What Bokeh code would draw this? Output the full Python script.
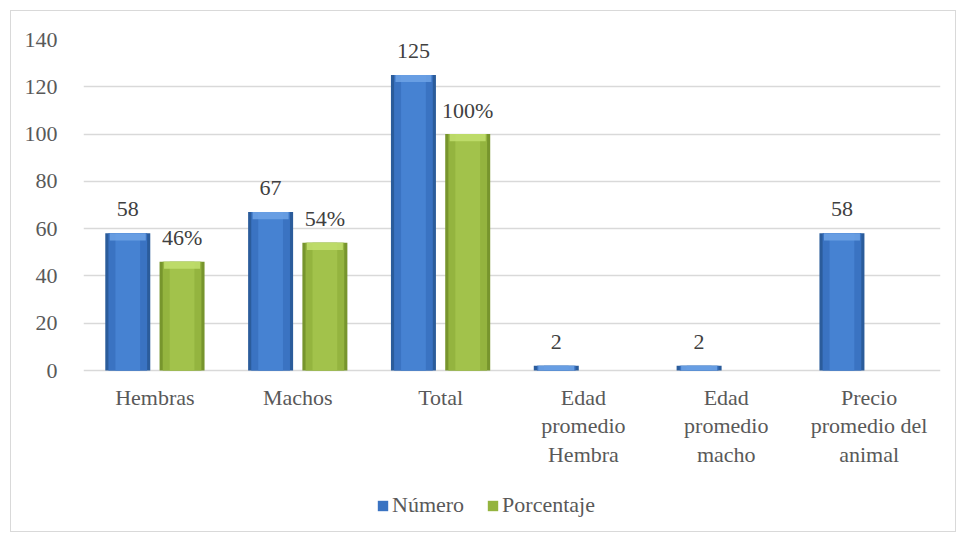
import numpy as np
from bokeh.plotting import figure
from bokeh.models import ColumnDataSource, FactorRange, Range1d, FixedTicker, Legend, LegendItem
from bokeh.transform import dodge
from bokeh.core.properties import value
from bokeh.embed import file_html
from bokeh.resources import INLINE

# ---- data ----
categories = ["Hembras", "Machos", "Total",
              "Edad\npromedio\nHembra", "Edad\npromedio\nmacho",
              "Precio\npromedio del\nanimal"]
numero = [58, 67, 125, 2, 2, 58]
porcentaje = [46, 54, 100, np.nan, np.nan, np.nan]
numero_labels = ["58", "67", "125", "2", "2", "58"]
porcentaje_labels = ["46%", "54%", "100%", "", "", ""]
y_ticks = [0, 20, 40, 60, 80, 100, 120, 140]
series_names = ["Número", "Porcentaje"]

FONT = "'Liberation Serif', serif"
TXT = "#595959"

# layout (pixels)
PX_PER_UNIT = (370 - 39) / 140.0
Y_MIN = -(530 - 370) / PX_PER_UNIT

n_arr = np.array(numero, dtype=float)
p_arr = np.array(porcentaje, dtype=float)
src = ColumnDataSource(dict(
    cat=categories,
    zero=np.zeros(len(categories)),
    numero=n_arr,
    porcentaje=p_arr,
    numero_bev=np.maximum(n_arr - 3.0, 0),
    porcentaje_bev=np.maximum(p_arr - 3.0, 0),
    numero_labels=numero_labels,
    porcentaje_labels=porcentaje_labels,
))

p = figure(width=946, height=522, x_range=FactorRange(*categories, range_padding=0),
           y_range=Range1d(Y_MIN, 140), output_backend="svg", toolbar_location=None,
           x_axis_location=None,
           min_border_left=72, min_border_right=17, min_border_top=28, min_border_bottom=3)
p.styles = {"border": "1px solid #d9d9d9", "margin-left": "10px", "margin-top": "10px"}
p.outline_line_color = None
p.background_fill_color = "white"
p.border_fill_color = "white"

p.xgrid.grid_line_color = None
p.ygrid.grid_line_color = "#d9d9d9"
p.ygrid.grid_line_width = 1.3
p.yaxis.ticker = FixedTicker(ticks=y_ticks)
p.yaxis.major_tick_line_color = None
p.yaxis.minor_tick_line_color = None
p.yaxis.major_label_text_font = FONT
p.yaxis.major_label_text_font_size = "22px"
p.yaxis.major_label_text_color = TXT
p.yaxis.axis_line_color = None
p.yaxis.major_label_standoff = 20

# category labels below the zero line
p.text(x="cat", y="zero", text="cat", source=src, text_font=value(FONT),
       text_font_size="22px", text_color=TXT, text_align="center",
       text_baseline="top", text_line_height=1.15, y_offset=14)

W = 0.315
OFF = 0.19
specs = [
    ("numero", -OFF, ["#2b5c9b", "#3a73c2", "#4682d2"], "#6ea3e6"),
    ("porcentaje", OFF, ["#77952d", "#94b43f", "#a2c24b"], "#c2df6f"),
]
legend_rs = []
for col, off, shades, bevel in specs:
    xx = dodge("cat", off, range=p.x_range)
    p.vbar(x=xx, top=col, width=W, bottom=0, fill_color=shades[0], line_color=None, source=src)
    r = p.vbar(x=xx, top=col, width=W * 0.86, bottom=0, fill_color=shades[1], line_color=None, source=src)
    p.vbar(x=xx, top=col, width=W * 0.55, bottom=0, fill_color=shades[2], line_color=None, source=src)
    p.vbar(x=xx, top=col, bottom=col + "_bev", width=W * 0.8, fill_color=bevel, line_color=None,
           fill_alpha=0.85, source=src)
    legend_rs.append(r)
    p.text(x=xx, y=col, text=col + "_labels", source=src, text_font=value(FONT),
           text_font_size="22px", text_color="#404040", text_align="center",
           text_baseline="middle", text_line_height=1.15, y_offset=-24)

legend = Legend(items=[LegendItem(label=series_names[0], renderers=[legend_rs[0]]),
                       LegendItem(label=series_names[1], renderers=[legend_rs[1]])],
                orientation="horizontal", location=(293, 12))
legend.padding = 0
legend.margin = 0
legend.spacing = 22
legend.glyph_width = 13
legend.glyph_height = 13
legend.label_standoff = 3
legend.label_text_font = FONT
legend.label_text_font_size = "22px"
legend.label_text_color = TXT
legend.label_text_baseline = "middle"
legend.border_line_color = None
legend.background_fill_alpha = 0
p.add_layout(legend, "center")

open("out.html", "w").write(file_html(p, INLINE))
